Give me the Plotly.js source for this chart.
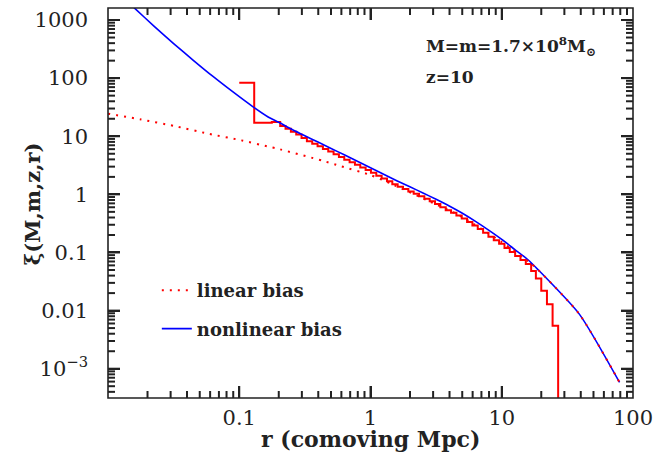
<!DOCTYPE html>
<html>
<head>
<meta charset="utf-8">
<script src="https://cdn.plot.ly/plotly-3.0.1.min.js"></script>
<style>
html,body{margin:0;padding:0;background:#fff;}
#chart{width:663px;height:458px;}
</style>
</head>
<body>
<div id="chart"></div>
<script>
// ---- data ----
// linear bias (red dotted)
const linR  = [0.01, 0.0179, 0.0321, 0.0575, 0.104, 0.166, 0.194, 0.4375, 0.586, 1.0, 1.46, 2.67, 4.8, 10.0, 16.5, 18.8, 39.0, 79.0];
const linXi = [24.5, 19.4, 15.0, 11.1, 8.5, 6.65, 6.14, 3.76, 3.08, 2.15, 1.5, 0.80, 0.43, 0.151, 0.066, 0.051, 0.0087, 0.00058];

// nonlinear bias (blue solid)
const nlR  = [0.01413, 0.01585, 0.02239, 0.03162, 0.04467, 0.0631, 0.0891, 0.1259, 0.166, 0.200, 0.251, 0.316, 0.398, 0.501,
  0.631, 0.794, 1.0, 1.259, 1.585, 1.995, 2.512, 3.162, 3.981, 5.012, 6.31, 7.943, 10.0, 12.59, 15.85, 18.8, 39.0, 79.0];
const nlXi = [2076, 1622, 788, 394, 203, 107, 58.4, 32.7, 21.5, 17.4, 13.2, 10.2, 7.94, 6.17,
  4.79, 3.72, 2.88, 2.213, 1.718, 1.349, 1.059, 0.822, 0.631, 0.473, 0.343, 0.2427, 0.168, 0.1122, 0.075, 0.0513, 0.0087, 0.00058];

// simulation histogram (red steps): bin edges (left edges + last right edge) and bin values
const binEdges = [0.1, 0.13, 0.177, 0.2051, 0.2252, 0.2474, 0.2717, 0.2983, 0.3276, 0.3598, 0.3951, 0.4339, 0.4765,
  0.5233, 0.5747, 0.6311, 0.6931, 0.7612, 0.8359, 0.918, 1.008, 1.107, 1.216, 1.335, 1.466, 1.610, 1.768, 1.942,
  2.133, 2.342, 2.572, 2.825, 3.102, 3.407, 3.742, 4.109, 4.513, 4.956, 5.442, 5.977, 6.564, 7.209, 7.916, 8.694,
  9.548, 10.49, 11.51, 12.65, 13.89, 15.25, 16.75, 18.2, 20.0, 22.1, 24.4, 26.9];
const binXi = [83, 17.0, 17.6, 15.0, 13.5, 11.9, 10.7, 9.34, 8.23, 7.43, 6.70, 6.04, 5.45, 4.92, 4.385, 3.956, 3.568,
  3.219, 2.904, 2.619, 2.350, 2.099, 1.876, 1.676, 1.498, 1.356, 1.235, 1.124, 1.024, 0.932, 0.842, 0.760, 0.682,
  0.603, 0.534, 0.481, 0.434, 0.385, 0.335, 0.291, 0.253, 0.2196, 0.1865, 0.1621, 0.1408, 0.120, 0.1024, 0.0873,
  0.0744, 0.0631, 0.048, 0.0357, 0.022, 0.0128, 0.0055];
const histFloor = 1e-6; // empty bins beyond the last one

// tick labels
const xTickVals = [0.1, 1, 10, 100];
const xTickText = ['0.1', '1', '10', '100'];
const yTickVals = [0.001, 0.01, 0.1, 1, 10, 100, 1000];
const yTickText = ['10<sup>\u22123</sup>', '0.01', '0.1', '1', '10', '100', '1000'];

// ---- build ----
const histX = binEdges.slice();
const histY = binXi.concat([histFloor]);

const serif = 'DejaVu Serif, Liberation Serif, serif';
const ink = '#222222';
const xRange = [-2, 2.0];
const yRange = [-3.504, 3.207];
const W = 663, H = 458, MARG = { l: 108, r: 30, t: 8, b: 60 };
const plotW = W - MARG.l - MARG.r, plotH = H - MARG.t - MARG.b;

// axis tick marks on all four sides (major + minor), drawn as a line trace in axis space
function decadeTicks(lo, hi) {
  const major = [], minor = [];
  for (let e = Math.floor(lo); e <= Math.ceil(hi); e++) {
    for (let d = 1; d <= 9; d++) {
      const lv = e + Math.log10(d);
      if (lv <= lo + 1e-6 || lv >= hi - 1e-6) continue;
      (d === 1 ? major : minor).push(lv);
    }
  }
  return { major, minor };
}
const tickX = [], tickY = [];
const dexPerPxX = (xRange[1] - xRange[0]) / plotW;
const dexPerPxY = (yRange[1] - yRange[0]) / plotH;
function pushSeg(x0, y0, x1, y1) { tickX.push(x0, x1, null); tickY.push(y0, y1, null); }
function addXTicks(list, lenPx) {
  const d = lenPx * dexPerPxY;
  list.forEach(lv => {
    const v = Math.pow(10, lv);
    pushSeg(v, Math.pow(10, yRange[0]), v, Math.pow(10, yRange[0] + d));
    pushSeg(v, Math.pow(10, yRange[1]), v, Math.pow(10, yRange[1] - d));
  });
}
function addYTicks(list, lenPx) {
  const d = lenPx * dexPerPxX;
  list.forEach(lv => {
    const v = Math.pow(10, lv);
    pushSeg(Math.pow(10, xRange[0]), v, Math.pow(10, xRange[0] + d), v);
    pushSeg(Math.pow(10, xRange[1]), v, Math.pow(10, xRange[1] - d), v);
  });
}
const xt = decadeTicks(xRange[0], xRange[1]);
const yt = decadeTicks(yRange[0], yRange[1]);
addXTicks(xt.major, 12); addXTicks(xt.minor, 7);
addYTicks(yt.major, 12); addYTicks(yt.minor, 7);

const traces = [
  { x: tickX, y: tickY, type: 'scatter', mode: 'lines', line: { color: ink, width: 2 },
    showlegend: false, hoverinfo: 'skip', connectgaps: false },
  { x: histX, y: histY, type: 'scatter', mode: 'lines', line: { shape: 'hv', color: '#ff0000', width: 2 },
    showlegend: false, hoverinfo: 'skip' },
  { x: nlR, y: nlXi, type: 'scatter', mode: 'lines', name: 'nonlinear bias', legendrank: 2, legendgroup: 'b',
    line: { color: '#0000ff', width: 1.6, shape: 'spline', smoothing: 0.6 } },
  { x: linR, y: linXi, type: 'scatter', mode: 'lines', name: 'linear bias', legendrank: 1, legendgroup: 'a',
    line: { color: '#ff0000', width: 2, dash: '2px,6px', shape: 'spline', smoothing: 0.6 } }
];

const layout = {
  width: W, height: H,
  margin: MARG,
  paper_bgcolor: '#fff', plot_bgcolor: '#fff',
  showlegend: true,
  legend: {
    x: 0.093, y: 0.323, xanchor: 'left', yanchor: 'top', bgcolor: 'rgba(0,0,0,0)',
    font: { family: serif, size: 18, color: '#222', weight: 'bold' },
    traceorder: 'grouped', tracegroupgap: 12, itemwidth: 30
  },
  xaxis: {
    type: 'log', range: xRange, showgrid: false, zeroline: false, showline: false,
    ticks: 'inside', ticklen: 12, tickwidth: 2, tickcolor: ink, mirror: 'allticks',
    tickmode: 'array', tickvals: xTickVals, ticktext: xTickText, ticklabelstandoff: 5,
    tickfont: { family: serif, size: 21, color: '#222' }
  },
  yaxis: {
    type: 'log', range: yRange, showgrid: false, zeroline: false, showline: false,
    ticks: 'inside', ticklen: 12, tickwidth: 2, tickcolor: ink, mirror: 'allticks',
    tickmode: 'array', tickvals: yTickVals, ticktext: yTickText, ticklabelstandoff: 19,
    tickfont: { family: serif, size: 21, color: '#222' }
  },
  shapes: [{ type: 'rect', xref: 'paper', yref: 'paper', x0: 0, x1: 1, y0: 0, y1: 1,
    line: { color: ink, width: 1.6 }, layer: 'above' }],
  annotations: [
    { xref: 'paper', yref: 'paper', x: 0.5, y: 0, yshift: -41, xanchor: 'center', yanchor: 'middle', showarrow: false,
      text: 'r (comoving Mpc)', font: { family: serif, size: 22, color: '#222', weight: 'bold' } },
    { xref: 'paper', yref: 'paper', x: 0, xshift: -76, y: 0.497, xanchor: 'center', yanchor: 'middle', showarrow: false,
      textangle: -90, text: '\u03be(M,m,z,r)', font: { family: serif, size: 21, color: '#222', weight: 'bold' } },
    { xref: 'paper', yref: 'paper', x: 0.602, y: 0.90, xanchor: 'left', yanchor: 'middle', showarrow: false,
      text: 'M=m=1.7\u00d710<sup>8</sup>M<sub>\u2299</sub>', font: { family: serif, size: 17, color: '#222', weight: 'bold' } },
    { xref: 'paper', yref: 'paper', x: 0.602, y: 0.823, xanchor: 'left', yanchor: 'middle', showarrow: false,
      text: 'z=10', font: { family: serif, size: 17, color: '#222', weight: 'bold' } }
  ]
};

Plotly.newPlot('chart', traces, layout, { displayModeBar: false, staticPlot: true });
</script>
</body>
</html>
